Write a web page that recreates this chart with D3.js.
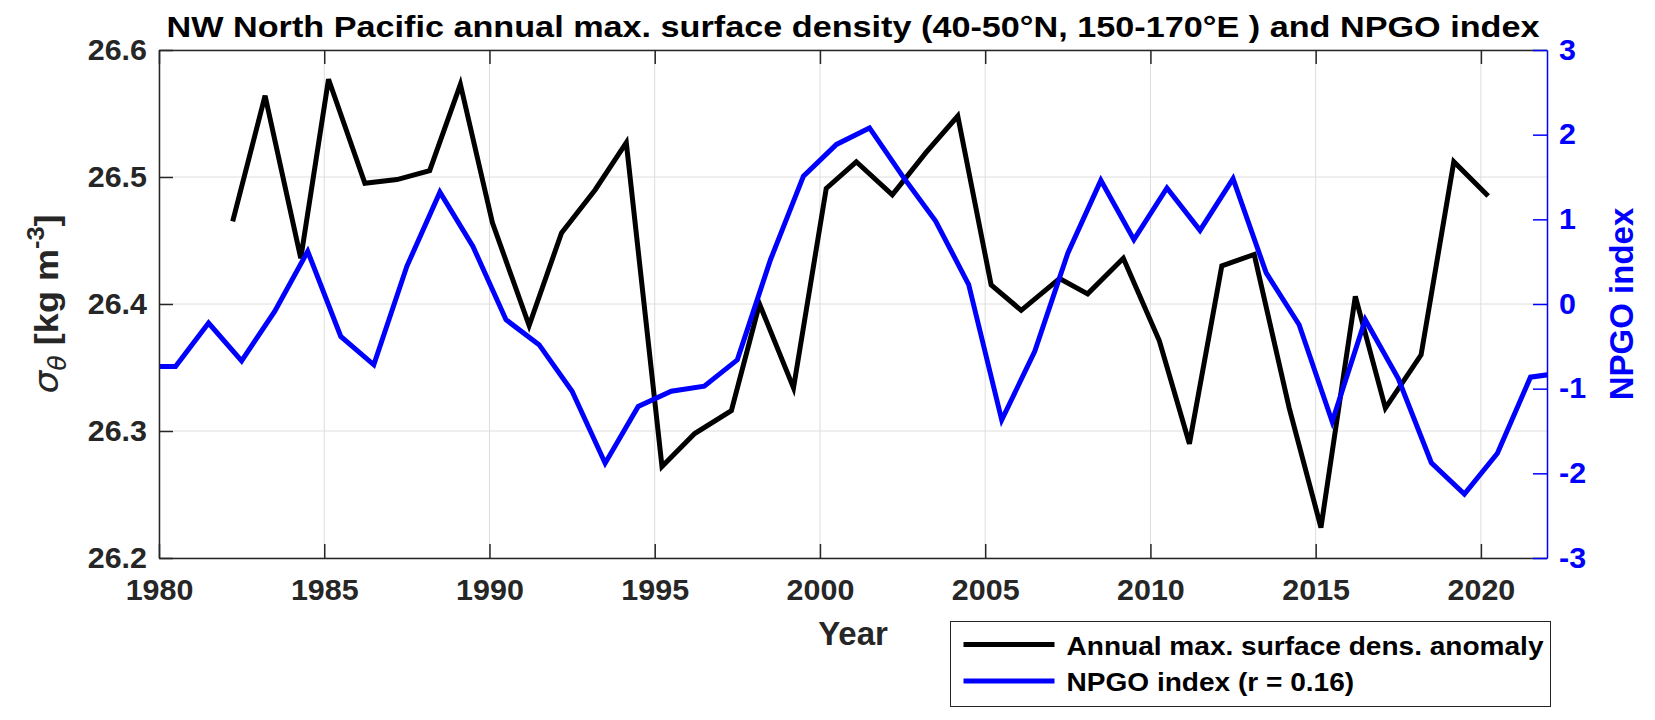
<!DOCTYPE html>
<html>
<head>
<meta charset="utf-8">
<script src="https://cdn.jsdelivr.net/npm/d3@7"></script>
<style>
	body { margin: 0; background: #fff; }
	svg text { font-family: "Liberation Sans", Arial, Helvetica, sans-serif; font-weight: bold; }
	.grid line { stroke: #dedede; stroke-width: 1; }
</style>
</head>
<body>
<div id="chart"></div>
<script>
// annual max surface density (date of max, in decimal years)
var densYears = [1982.23, 1983.21, 1984.29, 1985.13, 1986.23, 1987.2, 1988.19, 1989.12, 1990.09, 1991.2,
	1992.18, 1993.2, 1994.14, 1995.22, 1996.21, 1997.32, 1998.17, 1999.2, 2000.19, 2001.1,
	2002.19, 2003.2, 2004.17, 2005.18, 2006.09, 2007.25, 2008.1, 2009.18, 2010.27, 2011.18,
	2012.16, 2013.14, 2014.2, 2015.16, 2016.2, 2017.11, 2018.19, 2019.18, 2020.22]
var densValues = [26.465, 26.564, 26.436, 26.577, 26.495, 26.498, 26.505, 26.573, 26.464, 26.383,
	26.456, 26.49, 26.527, 26.272, 26.298, 26.316, 26.40, 26.334, 26.491, 26.512,
	26.486, 26.519, 26.548, 26.415, 26.395, 26.42, 26.408, 26.436, 26.371, 26.29,
	26.43, 26.439, 26.318, 26.224, 26.406, 26.318, 26.36, 26.512, 26.485]

// NPGO annual means, plotted mid-year
var npgoYears = [1979.5, 1980.5, 1981.5, 1982.5, 1983.5, 1984.5, 1985.5, 1986.5, 1987.5, 1988.5,
	1989.5, 1990.5, 1991.5, 1992.5, 1993.5, 1994.5, 1995.5, 1996.5, 1997.5, 1998.5,
	1999.5, 2000.5, 2001.5, 2002.5, 2003.5, 2004.5, 2005.5, 2006.5, 2007.5, 2008.5,
	2009.5, 2010.5, 2011.5, 2012.5, 2013.5, 2014.5, 2015.5, 2016.5, 2017.5, 2018.5,
	2019.5, 2020.5, 2021.5, 2022.5]
var npgoValues = [-0.738, -0.738, -0.225, -0.671, -0.088, 0.622, -0.383, -0.718, 0.445, 1.32,
	0.68, -0.186, -0.48, -1.03, -1.88, -1.21, -1.03, -0.97, -0.66, 0.52,
	1.51, 1.885, 2.08, 1.51, 0.98, 0.23, -1.37, -0.56, 0.60, 1.46,
	0.76, 1.37, 0.87, 1.48, 0.37, -0.245, -1.39, -0.186, -0.88, -1.875,
	-2.245, -1.763, -0.864, -0.81]

var xTicks = [1980, 1985, 1990, 1995, 2000, 2005, 2010, 2015, 2020]
var leftTicks = [26.2, 26.3, 26.4, 26.5, 26.6]
var rightTicks = [-3, -2, -1, 0, 1, 2, 3]
var titleText = "NW North Pacific annual max. surface density (40-50\u00B0N, 150-170\u00B0E ) and NPGO index"
var legendLabels = ["Annual max. surface dens. anomaly", "NPGO index (r = 0.16)"]
var seriesColors = ["#000000", "#0000ff"]

var width = 1655
var height = 720
var margins = {left: 159, right: 108, top: 50, bottom: 162}
var plot_w = width - margins.left - margins.right
var plot_h = height - margins.top - margins.bottom
var axisColor = "#262626"
var tickLen = 14

// the reference text runs a bit wider than Liberation Sans at the same height
function stretch_text(sel, factor) {
	sel.each(function () {
		var w = this.getComputedTextLength()
		d3.select(this)
			.attr("textLength", w * factor)
			.attr("lengthAdjust", "spacingAndGlyphs")
	})
}

var svg = d3.select("#chart")
	.append("svg")
		.attr("width", width)
		.attr("height", height)
svg.append("rect")
	.attr("width", width)
	.attr("height", height)
	.attr("fill", "#fff")

var chart = svg.append("g")
	.attr("transform", "translate(" + margins.left + ", " + margins.top + ")")

var x = d3.scaleLinear().domain([1980, 2022]).range([0, plot_w])
var yLeft = d3.scaleLinear().domain([26.2, 26.6]).range([plot_h, 0])
var yRight = d3.scaleLinear().domain([-3, 3]).range([plot_h, 0])

// grid
var grid = chart.append("g").attr("class", "grid")
grid.selectAll("line.vx")
	.data(xTicks)
	.enter().append("line")
		.attr("class", "vx")
		.attr("x1", (d) => x(d)).attr("x2", (d) => x(d))
		.attr("y1", 0).attr("y2", plot_h)
grid.selectAll("line.hy")
	.data(leftTicks)
	.enter().append("line")
		.attr("class", "hy")
		.attr("x1", 0).attr("x2", plot_w)
		.attr("y1", (d) => yLeft(d)).attr("y2", (d) => yLeft(d))

chart.append("clipPath")
	.attr("id", "plot-clip")
	.append("rect")
		.attr("width", plot_w)
		.attr("height", plot_h)

// lines
var densLine = d3.line().x((d, i) => x(densYears[i])).y((d) => yLeft(d))
var npgoLine = d3.line().x((d, i) => x(npgoYears[i])).y((d) => yRight(d))
var lines = chart.append("g").attr("clip-path", "url(#plot-clip)")
lines.append("path")
	.datum(densValues)
	.attr("fill", "none")
	.attr("stroke", seriesColors[0])
	.attr("stroke-width", 5)
	.attr("stroke-linejoin", "miter")
	.attr("d", densLine)
lines.append("path")
	.datum(npgoValues)
	.attr("fill", "none")
	.attr("stroke", seriesColors[1])
	.attr("stroke-width", 5)
	.attr("stroke-linejoin", "miter")
	.attr("d", npgoLine)

// axes
function style_axis(g, color, size) {
	g.select(".domain").attr("stroke", color).attr("stroke-width", 1.5)
	g.selectAll(".tick line").attr("stroke", color).attr("stroke-width", 1.5)
	g.selectAll(".tick text")
		.attr("fill", color)
		.style("font-size", size + "px")
	stretch_text(g.selectAll(".tick text"), 1.05)
}

var bottomAxis = chart.append("g")
	.attr("transform", "translate(0, " + plot_h + ")")
	.call(d3.axisBottom(x).tickValues(xTicks).tickFormat((d) => String(d))
		.tickSize(-tickLen).tickSizeOuter(0).tickPadding(21))
style_axis(bottomAxis, axisColor, 29)

var topAxis = chart.append("g")
	.call(d3.axisTop(x).tickValues(xTicks).tickFormat("")
		.tickSize(-tickLen).tickSizeOuter(0))
style_axis(topAxis, axisColor, 29)

var leftAxis = chart.append("g")
	.call(d3.axisLeft(yLeft).tickValues(leftTicks).tickFormat((d) => d.toFixed(1))
		.tickSize(-tickLen).tickSizeOuter(0).tickPadding(12))
style_axis(leftAxis, axisColor, 29)

// MATLAB labels use a plain hyphen for negatives
var rightAxis = chart.append("g")
	.attr("transform", "translate(" + plot_w + ", 0)")
	.call(d3.axisRight(yRight).tickValues(rightTicks).tickFormat((d) => String(d))
		.tickSize(-tickLen).tickSizeOuter(0).tickPadding(12))
style_axis(rightAxis, seriesColors[1], 29)

// title and labels
var title = svg.append("text")
	.attr("x", margins.left + plot_w / 2)
	.attr("y", 37)
	.attr("fill", "#000")
	.style("font-size", "30px")
	.style("text-anchor", "middle")
	.text(titleText)
stretch_text(title, 1.14)

svg.append("text")
	.attr("x", margins.left + plot_w / 2)
	.attr("y", 645)
	.attr("fill", axisColor)
	.style("font-size", "33px")
	.style("text-anchor", "middle")
	.text("Year")

var ylab = svg.append("text")
	.attr("transform", "translate(58, " + (margins.top + plot_h / 2) + ") rotate(-90)")
	.attr("fill", axisColor)
	.style("font-size", "34px")
	.style("text-anchor", "middle")
ylab.append("tspan")
	.style("font-style", "italic").style("font-weight", "normal")
	.style("font-family", "'DejaVu Sans', sans-serif")
	.text("\u03C3")
ylab.append("tspan")
	.attr("dy", 8)
	.style("font-style", "italic").style("font-weight", "normal")
	.style("font-family", "'DejaVu Sans', sans-serif")
	.style("font-size", "24px")
	.text("\u03B8")
ylab.append("tspan")
	.attr("dy", -8)
	.text(" [kg m")
ylab.append("tspan")
	.attr("dy", -14)
	.style("font-size", "24px")
	.text("-3")
ylab.append("tspan")
	.attr("dy", 14)
	.text("]")
stretch_text(ylab, 1.06)

svg.append("text")
	.attr("transform", "translate(1633, " + (margins.top + plot_h / 2) + ") rotate(-90)")
	.attr("fill", seriesColors[1])
	.style("font-size", "33px")
	.style("text-anchor", "middle")
	.text("NPGO index")

// legend
var legend = svg.append("g")
	.attr("transform", "translate(950.5, 621.5)")
legend.append("rect")
	.attr("width", 600)
	.attr("height", 85)
	.attr("fill", "#fff")
	.attr("stroke", axisColor)
	.attr("stroke-width", 1)
var items = legend.selectAll("g.item")
	.data(legendLabels)
	.enter().append("g")
		.attr("class", "item")
		.attr("transform", (d, i) => "translate(0, " + (23 + i * 36.5) + ")")
items.append("line")
	.attr("x1", 13).attr("x2", 104)
	.attr("stroke", (d, i) => seriesColors[i])
	.attr("stroke-width", 5)
var legendText = items.append("text")
	.attr("x", 116)
	.attr("y", 10)
	.attr("fill", "#000")
	.style("font-size", "25.5px")
	.text((d) => d)
stretch_text(legendText, 1.1)
</script>
</body>
</html>
